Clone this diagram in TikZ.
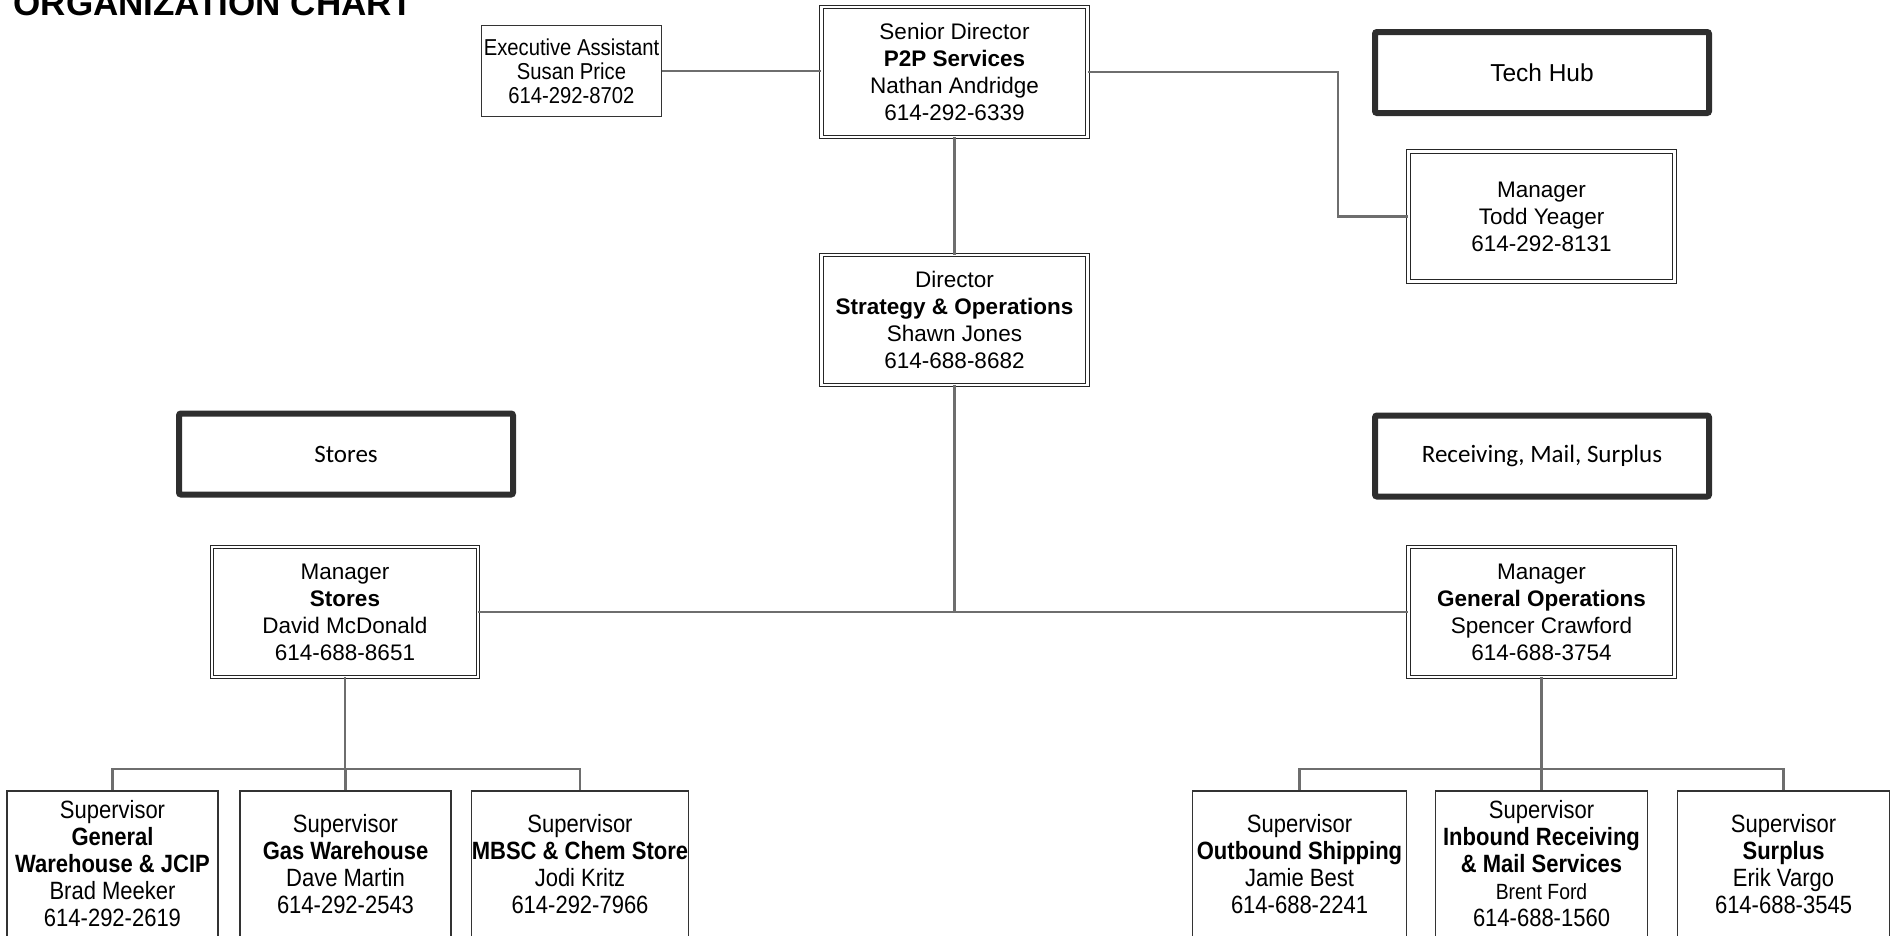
\documentclass[tikz,border=0pt]{standalone}
\usepackage{fontspec}
\setmainfont{Liberation Sans}
\newfontfamily\narrowsans[FakeStretch=0.88]{Liberation Sans}
\newfontfamily\calibrisans{Carlito}
\usetikzlibrary{calc}

\begin{document}
\begin{tikzpicture}[x=1pt,y=-1pt,
  mgr/.style ={rectangle, draw=black!85, double, double distance=2.5pt, line width=0.9pt, inner sep=0pt, minimum width=266pt, minimum height=130pt, align=center, font=\fontsize{22.5}{27}\selectfont},
  assist/.style ={rectangle, draw=black!80, line width=1.3pt, inner sep=0pt, minimum width=180pt, minimum height=91pt, align=center, font=\narrowsans\fontsize{23}{24}\selectfont},
  hub/.style ={rectangle, draw=black!82, line width=6pt, rounded corners=2pt, inner sep=0pt, minimum width=334pt, minimum height=81pt, align=center},
  sup/.style ={rectangle, draw=black!80, line width=1.3pt, inner sep=0pt, minimum width=211pt, minimum height=146pt, align=center, font=\narrowsans\fontsize{25}{27}\selectfont},
  link/.style ={draw=black!57, line width=2.4pt}]
\useasboundingbox (0,0) rectangle (1897,935);
\node[anchor=base west, font=\bfseries\fontsize{35}{40}\selectfont] (Title) at (10,15) {ORGANIZATION CHART};

% top level
\draw (954.5,72) node[mgr] (Senior) {Senior Director\\ \textbf{P2P Services}\\ Nathan Andridge\\ 614-292-6339};
\draw (571.5,71) node[assist] (Assist) {Executive Assistant\\ Susan Price\\ 614-292-8702};
\draw (1542,72.5) node[hub, font=\fontsize{24.5}{28}\selectfont] (TechHub) {Tech Hub};
\draw (1541.5,216.5) node[mgr] (Todd) {Manager\\ Todd Yeager\\ 614-292-8131};
\draw (954.5,320) node[mgr] (Director) {Director\\ \textbf{Strategy \& Operations}\\ Shawn Jones\\ 614-688-8682};

% areas
\draw (346,454) node[hub, font=\calibrisans\fontsize{25}{28}\selectfont] (StoresHub) {Stores};
\draw (1542,456) node[hub, font=\calibrisans\fontsize{25}{28}\selectfont] (RecvHub) {Receiving, Mail, Surplus};
\draw (345,612) node[mgr] (MgrStores) {Manager\\ \textbf{Stores}\\ David McDonald\\ 614-688-8651};
\draw (1541.5,612) node[mgr] (MgrOps) {Manager\\ \textbf{General Operations}\\ Spencer Crawford\\ 614-688-3754};

% supervisors
\draw (112.5,864) node[sup] (SupGW) {Supervisor\\ \textbf{General}\\ \textbf{Warehouse \& JCIP}\\ Brad Meeker\\ 614-292-2619};
\draw (345.5,864) node[sup] (SupGas) {Supervisor\\ \textbf{Gas Warehouse}\\ Dave Martin\\ 614-292-2543};
\draw (580,864) node[sup, minimum width=213pt] (SupMBSC) {Supervisor\\ \textbf{MBSC \& Chem Store}\\ Jodi Kritz\\ 614-292-7966};
\draw (1299.5,864) node[sup, minimum width=214pt] (SupOut) {Supervisor\\ \textbf{Outbound Shipping}\\ Jamie Best\\ 614-688-2241};
\draw (1541.5,864) node[sup, minimum width=212pt] (SupIn) {Supervisor\\ \textbf{Inbound Receiving}\\ \textbf{\& Mail Services}\\ {\fontsize{22}{27}\selectfont Brent Ford}\\ 614-688-1560};
\draw (1783.5,864) node[sup, minimum width=212pt] (SupSurp) {Supervisor\\ \textbf{Surplus}\\ Erik Vargo\\ 614-688-3545};

\coordinate (Bend) at (1338,0);
\coordinate (StoresBus) at (345,769);
\coordinate (OpsBus) at (1541.5,769);

\draw [link] (Assist.east) -- (Assist.east -| Senior.west);
\draw [link] (Senior) -- (Director);
\draw [link] (Senior.east) -- (Senior.east -| Bend) |- (Todd.west);
\draw [link] (Director) -- (Director |- MgrStores);
\draw [link] (MgrStores) -- (MgrOps);
\draw [link] (MgrStores) -- (StoresBus);
\draw [link] (MgrOps) -- (OpsBus);
\foreach \s in {SupGW,SupGas,SupMBSC}
  \draw [link] (StoresBus) -| (\s);
\foreach \s in {SupOut,SupIn,SupSurp}
  \draw [link] (OpsBus) -| (\s);

\end{tikzpicture}
\end{document}
